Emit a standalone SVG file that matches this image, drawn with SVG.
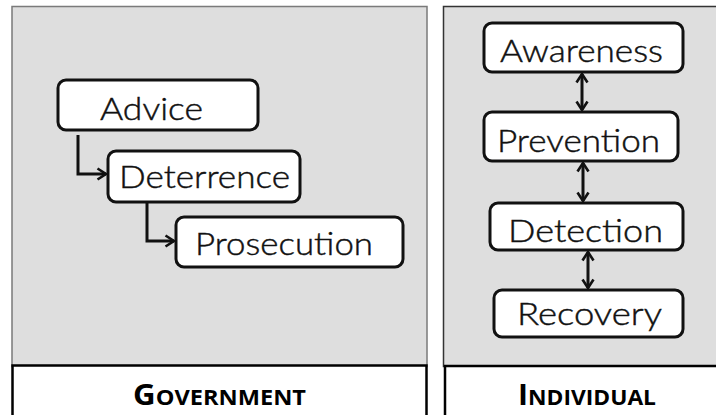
<svg xmlns="http://www.w3.org/2000/svg" width="716" height="415" viewBox="0 0 716 415">
  <defs>
    <style>
      .panel { fill: #dedede; stroke: #7a7a7a; stroke-width: 1.5; }
      .panel2 { fill: #dedede; stroke: #333; stroke-width: 1.5; }
      .label-box { fill: #ffffff; stroke: #000; stroke-width: 2.5; }
      .node rect { fill: #ffffff; stroke: #111; stroke-width: 3; }
      .node text { font-family: Lato, "Open Sans", "DejaVu Sans", sans-serif; font-weight: 300; font-size: 32px; fill: #111; stroke: #111; stroke-width: 0.45; }
      .lbl { font-family: "Open Sans", "Liberation Sans", sans-serif; font-weight: bold; fill: #000; }
      .conn { fill: none; stroke: #111; stroke-width: 3; }
    </style>
    <marker id="arr" viewBox="0 0 12 14" refX="10.5" refY="7" markerWidth="12" markerHeight="14" markerUnits="userSpaceOnUse" orient="auto-start-reverse">
      <path d="M2,1.5 L10.5,7 L2,12.5" fill="none" stroke="#111" stroke-width="2.6"/>
    </marker>
  </defs>

  <g id="government-panel">
    <rect class="panel" x="12" y="6.5" width="415" height="360"/>
    <rect class="label-box" x="12.5" y="365.5" width="414" height="60"/>
    <text class="lbl" x="219.5" y="405" text-anchor="middle" textLength="173" lengthAdjust="spacingAndGlyphs"><tspan font-size="28.5">G</tspan><tspan font-size="21.5">OVERNMENT</tspan></text>
  </g>

  <g id="individual-panel">
    <rect class="panel2" x="443.5" y="6.5" width="290" height="360"/>
    <rect class="label-box" x="445" y="366" width="290" height="60"/>
    <text class="lbl" x="587" y="405" text-anchor="middle" textLength="138" lengthAdjust="spacingAndGlyphs"><tspan font-size="28.5">I</tspan><tspan font-size="21.5">NDIVIDUAL</tspan></text>
  </g>

  <g id="advice" class="node">
    <rect x="58" y="80" width="200" height="50" rx="8"/>
    <text x="100" y="120" textLength="103" lengthAdjust="spacingAndGlyphs">Advice</text>
  </g>
  <g id="deterrence" class="node">
    <rect x="108" y="151" width="192" height="51" rx="8"/>
    <text x="119" y="188" textLength="171" lengthAdjust="spacingAndGlyphs">Deterrence</text>
  </g>
  <g id="prosecution" class="node">
    <rect x="176" y="217" width="227" height="50" rx="8"/>
    <text x="195" y="255" textLength="178" lengthAdjust="spacingAndGlyphs">Prosecution</text>
  </g>

  <g id="awareness" class="node">
    <rect x="484" y="23" width="199" height="49" rx="8"/>
    <text x="500" y="62" textLength="163" lengthAdjust="spacingAndGlyphs">Awareness</text>
  </g>
  <g id="prevention" class="node">
    <rect x="484" y="112" width="194" height="49" rx="8"/>
    <text x="497" y="152" textLength="163" lengthAdjust="spacingAndGlyphs">Prevention</text>
  </g>
  <g id="detection" class="node">
    <rect x="490" y="203" width="193" height="47" rx="8"/>
    <text x="508" y="242" textLength="155" lengthAdjust="spacingAndGlyphs">Detection</text>
  </g>
  <g id="recovery" class="node">
    <rect x="494" y="290" width="189" height="47" rx="8"/>
    <text x="517" y="325" textLength="145" lengthAdjust="spacingAndGlyphs">Recovery</text>
  </g>

  <g id="connectors">
    <path class="conn" d="M78,135 V174 H106" marker-end="url(#arr)"/>
    <path class="conn" d="M147,203 V241 H174" marker-end="url(#arr)"/>
    <path class="conn" d="M582,74 V110" marker-start="url(#arr)" marker-end="url(#arr)"/>
    <path class="conn" d="M583,163 V201" marker-start="url(#arr)" marker-end="url(#arr)"/>
    <path class="conn" d="M588,252 V288" marker-start="url(#arr)" marker-end="url(#arr)"/>
  </g>
</svg>
